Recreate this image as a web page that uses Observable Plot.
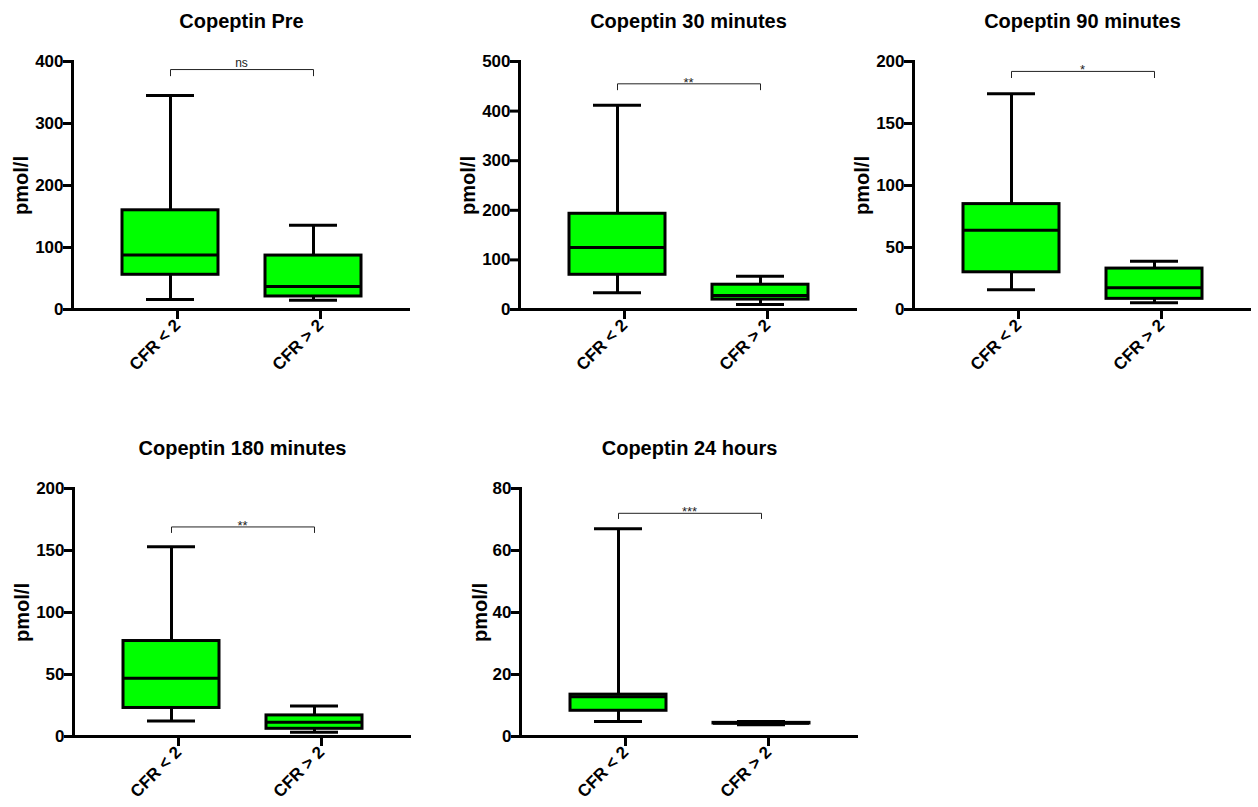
<!DOCTYPE html>
<html>
<head>
<meta charset="utf-8">
<script src="https://cdn.jsdelivr.net/npm/d3@7"></script>
<script src="https://cdn.jsdelivr.net/npm/@observablehq/plot@0.6"></script>
<style>
  html, body { margin: 0; padding: 0; background: #fff; }
  #wrap { position: relative; width: 1258px; height: 807px; overflow: hidden; background: #fff; }
  .panel { position: absolute; width: 420px; }
  .panel svg { max-width: none !important; }
</style>
</head>
<body>
<div id="wrap"></div>
<script>
// ---- data ----
const groups = ["CFR < 2", "CFR > 2"];
const titles = ["Copeptin Pre", "Copeptin 30 minutes", "Copeptin 90 minutes", "Copeptin 180 minutes", "Copeptin 24 hours"];
const yLabel = "pmol/l";

// [CFR < 2, CFR > 2] for each panel
const mins    = [[16, 15],   [34, 10],  [16, 5.4],  [12.4, 3.5], [4.85, 3.8]];
const q1s     = [[56, 21],   [70, 20],  [30, 8.6],  [23, 6.2],   [8.3, 4.2]];
const medians = [[88, 37],   [125, 28], [64, 17.5], [47, 11.5],  [12.8, 4.3]];
const q3s     = [[160, 87],  [193, 50], [85, 33],   [77, 17],    [13.5, 4.4]];
const maxs    = [[345, 136], [412, 67], [174, 39],  [153, 24.5], [67, 4.8]];

const yMax   = [400, 500, 200, 200, 80];
const yTicks = [
  [0, 100, 200, 300, 400],
  [0, 100, 200, 300, 400, 500],
  [0, 50, 100, 150, 200],
  [0, 50, 100, 150, 200],
  [0, 20, 40, 60, 80]
];
const bracketTop = [387, 455, 192, 169, 72];
const bracketLeg = [377, 443, 187, 164.5, 70.3];
const sigLabels  = ["ns", "**", "*", "**", "***"];

// ---- layout ----
const lefts = [0, 447, 841, 1, 448];
const tops  = [0, 0, 0, 427, 427];
const labelOffsets = [59, 59, 59, 59, 48];
const FONT = "'Liberation Sans', Arial, Helvetica, sans-serif";
const GREEN = "#00ff00";

const wrap = document.getElementById("wrap");

titles.forEach((title, p) => {
  const rows = groups.map((g, i) => ({
    group: g, min: mins[p][i], q1: q1s[p][i], median: medians[p][i], q3: q3s[p][i], max: maxs[p][i]
  }));
  const bracket = [
    {group: groups[0], y: bracketLeg[p]},
    {group: groups[0], y: bracketTop[p]},
    {group: groups[1], y: bracketTop[p]},
    {group: groups[1], y: bracketLeg[p]}
  ];
  const isStar = sigLabels[p].includes("*");

  const chart = Plot.plot({
    width: 420,
    height: 389,
    marginLeft: 72,
    marginRight: 10,
    marginTop: 61,
    marginBottom: 80,
    style: {fontFamily: FONT, background: "transparent", overflow: "visible", color: "black", maxWidth: "none"},
    x: {domain: groups, type: "band", paddingInner: 0.33, paddingOuter: 0.345},
    y: {domain: [0, yMax[p]]},
    marks: [
      // whiskers
      Plot.ruleX(rows, {x: "group", y1: "q3", y2: "max", stroke: "black", strokeWidth: 3}),
      Plot.ruleX(rows, {x: "group", y1: "min", y2: "q1", stroke: "black", strokeWidth: 3}),
      Plot.tickY(rows, {x: "group", y: "max", stroke: "black", strokeWidth: 3, insetLeft: 24, insetRight: 24}),
      Plot.tickY(rows, {x: "group", y: "min", stroke: "black", strokeWidth: 3, insetLeft: 24, insetRight: 24}),
      // boxes
      Plot.barY(rows, {x: "group", y1: "q1", y2: "q3", fill: GREEN, stroke: "black", strokeWidth: 3}),
      Plot.tickY(rows, {x: "group", y: "median", stroke: "black", strokeWidth: 3}),
      // significance bracket
      Plot.line(bracket, {x: "group", y: "y", stroke: "#222", strokeWidth: 1}),
      Plot.text([sigLabels[p]], {y: () => bracketTop[p], text: d => d, fontSize: isStar ? 13 : 12,
        lineAnchor: "bottom", dy: isStar ? 3 : -3, fill: "#222"}),
      // axes
      Plot.frame({anchor: "left", stroke: "black", strokeWidth: 3}),
      Plot.ruleY([0], {stroke: "black", strokeWidth: 3}),
      Plot.axisY({ticks: yTicks[p], tickSize: 9, tickPadding: 0, strokeWidth: 3, fontSize: 17,
        fontWeight: "bold", label: null, fill: "black"}),
      Plot.axisX({tickSize: 9, tickPadding: 3, tickRotate: -45, strokeWidth: 3, fontSize: 17,
        fontWeight: "bold", label: null, fill: "black", dx: 7, dy: 1}),
      // y label
      Plot.text([yLabel], {frameAnchor: "left", text: d => d, rotate: -90, dx: -labelOffsets[p],
        lineAnchor: "top", textAnchor: "middle", fontSize: 20, fontWeight: "bold", fill: "black"}),
      // title
      Plot.text([title], {frameAnchor: "top", text: d => d, dy: -40, lineAnchor: "middle",
        fontSize: 20, fontWeight: "bold", fill: "black"})
    ]
  });
  const div = document.createElement("div");
  div.className = "panel";
  div.style.left = lefts[p] + "px";
  div.style.top = tops[p] + "px";
  div.appendChild(chart);
  wrap.appendChild(div);
});
</script>
</body>
</html>
